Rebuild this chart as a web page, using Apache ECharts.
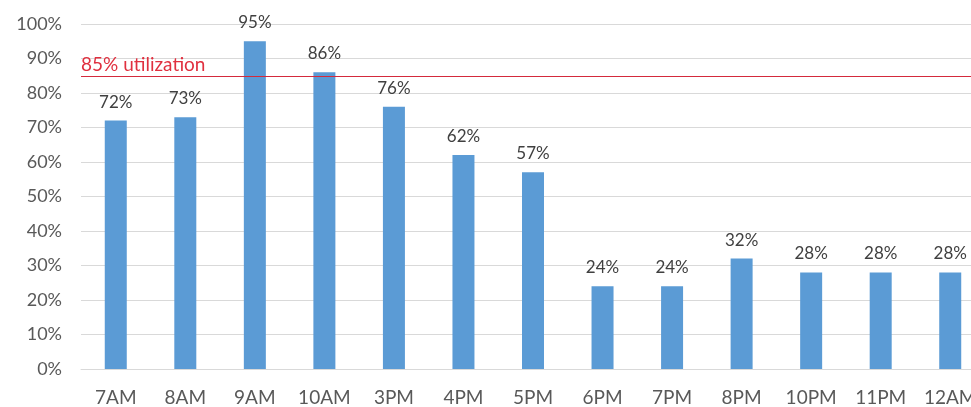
<!DOCTYPE html>
<html>
<head>
<meta charset="utf-8">
<script src="https://cdn.jsdelivr.net/npm/echarts@6/dist/echarts.min.js"></script>
<style>
  html, body { margin: 0; padding: 0; background: #fff; overflow: hidden; }
  #chart { width: 1000px; height: 407px; }
</style>
</head>
<body>
<div id="chart"></div>
<script>
// Hourly utilization
const hours = ['7AM', '8AM', '9AM', '10AM', '3PM', '4PM', '5PM', '6PM', '7PM', '8PM', '10PM', '11PM', '12AM'];
const utilization = [72, 73, 95, 86, 76, 62, 57, 24, 24, 32, 28, 28, 28];
const yTicks = [0, 10, 20, 30, 40, 50, 60, 70, 80, 90, 100];
const threshold = [85];
const thresholdLabel = '85% utilization';

const font = 'Lato, "Open Sans", sans-serif';
const chart = echarts.init(document.getElementById('chart'));

chart.setOption({
  animation: false,
  grid: { left: 81, top: 24, width: 904, height: 345, containLabel: false },
  xAxis: {
    type: 'category',
    data: hours,
    axisTick: { show: false },
    axisLine: { lineStyle: { color: '#D9D9D9', width: 1 } },
    axisLabel: { color: '#595959', fontSize: 19, fontFamily: font, margin: 19 }
  },
  yAxis: {
    type: 'value',
    min: yTicks[0],
    max: yTicks[yTicks.length - 1],
    interval: 10,
    axisLine: { show: false },
    axisTick: { show: false },
    splitLine: { lineStyle: { color: '#D9D9D9', width: 1 } },
    axisLabel: { color: '#595959', fontSize: 18, fontFamily: font, margin: 19, formatter: '{value}%' }
  },
  series: [{
    type: 'bar',
    data: utilization,
    barWidth: 22,
    itemStyle: { color: '#5B9BD5' },
    label: {
      show: true,
      position: 'top',
      distance: 10,
      color: '#404040',
      fontSize: 17,
      fontFamily: font,
      formatter: '{c}%'
    },
    markLine: {
      silent: true,
      symbol: 'none',
      lineStyle: { color: '#D42A3C', width: 1, type: 'solid' },
      label: {
        show: true,
        position: 'insideStartTop',
        distance: [0, 1],
        formatter: thresholdLabel,
        color: '#E0303F',
        fontSize: 19,
        fontFamily: font
      },
      data: threshold.map(v => ({ yAxis: v }))
    }
  }]
});
</script>
</body>
</html>
